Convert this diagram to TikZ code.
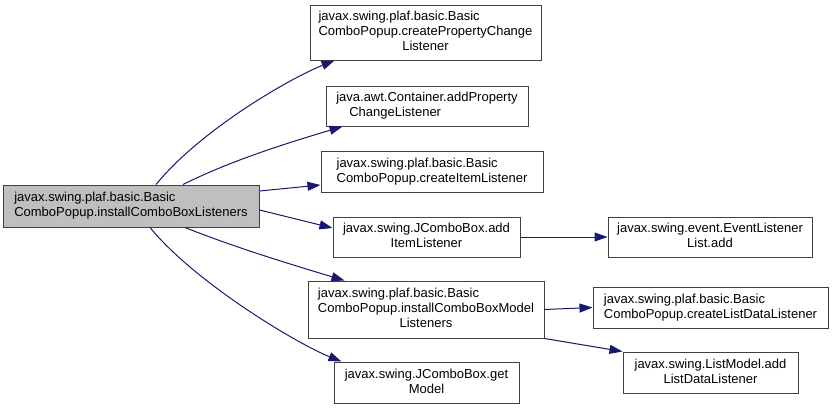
\documentclass[tikz,border=0pt]{standalone}
\usepackage{fontspec}
\setmainfont{Liberation Sans}
\usetikzlibrary{arrows.meta}
\definecolor{edgeblue}{RGB}{25,25,112}
\definecolor{boxline}{RGB}{64,64,64}
\definecolor{mainfill}{RGB}{191,191,191}
\newcommand{\txl}[1]{\begin{tabular}{@{}l@{}}#1\end{tabular}}
\newcommand{\txc}[1]{\begin{tabular}{@{}c@{}}#1\end{tabular}}
\newcommand{\ctrline}[1]{\multicolumn{1}{@{}c@{}}{#1}}
\begin{document}
\begin{tikzpicture}[x=1pt,y=-1pt,
  box/.style={draw=boxline, line width=1pt, fill=white, inner sep=0pt, font=\fontsize{13}{15}\selectfont},
  mainbox/.style={box, fill=mainfill},
  edge/.style={draw=edgeblue, line width=1pt, -{Triangle[length=13pt,width=9pt]}}]
\useasboundingbox (0,0) rectangle (833,410);
\fill[white] (0,0) rectangle (833,410);

\node[mainbox, minimum width=256pt, minimum height=42pt] (main) at (131,206)
  {\txl{javax.swing.plaf.basic.Basic\\ComboPopup.installComboBoxListeners}};
\node[box, minimum width=231pt, minimum height=55pt] (A) at (425.5,32.5)
  {\txl{javax.swing.plaf.basic.Basic\\ComboPopup.createPropertyChange\\\ctrline{Listener}}};
\node[box, minimum width=202pt, minimum height=40pt] (B) at (427,106)
  {\txl{java.awt.Container.addProperty\\\hspace{13pt}ChangeListener}};
\node[box, minimum width=222pt, minimum height=41pt] (C) at (432,171.5)
  {\txl{javax.swing.plaf.basic.Basic\\ComboPopup.createItemListener}};
\node[box, minimum width=187pt, minimum height=40pt] (D) at (426.5,237)
  {\txc{javax.swing.JComboBox.add\\ItemListener}};
\node[box, minimum width=236pt, minimum height=57pt] (E) at (426,309.5)
  {\txl{javax.swing.plaf.basic.Basic\\ComboPopup.installComboBoxModel\\\ctrline{Listeners}}};
\node[box, minimum width=185pt, minimum height=41pt] (F) at (426.5,382.5)
  {\txc{javax.swing.JComboBox.get\\Model}};
\node[box, minimum width=204pt, minimum height=40pt] (G) at (710,237)
  {\txc{javax.swing.event.EventListener\\List.add}};
\node[box, minimum width=235pt, minimum height=41pt] (H) at (710.5,307.5)
  {\txl{javax.swing.plaf.basic.Basic\\ComboPopup.createListDataListener}};
\node[box, minimum width=175pt, minimum height=41pt] (I) at (710.5,372.5)
  {\txc{javax.swing.ListModel.add\\ListDataListener}};

\draw[edge] ([xshift=25pt]main.north) .. controls +(45,-55) and +(-45,18) .. ([xshift=25pt]A.south west);
\draw[edge] ([xshift=52pt]main.north) .. controls +(50,-25) and +(-50,15) .. ([xshift=17pt]B.south west);
\draw[edge] ([yshift=15pt]main.east) -- ([yshift=-13.5pt]C.west);
\draw[edge] ([yshift=-4pt]main.east) -- ([yshift=9pt]D.west);
\draw[edge] ([xshift=54pt]main.south) .. controls +(50,20) and +(-50,-15) .. ([xshift=37pt]E.north west);
\draw[edge] ([xshift=19pt]main.south) .. controls +(45,55) and +(-45,-18) .. ([xshift=8pt]F.north west);
\draw[edge] (D.east) -- (G.west);
\draw[edge] (E.east) -- (H.west);
\draw[edge] (E.south east) -- (I.north west);
\end{tikzpicture}
\end{document}
